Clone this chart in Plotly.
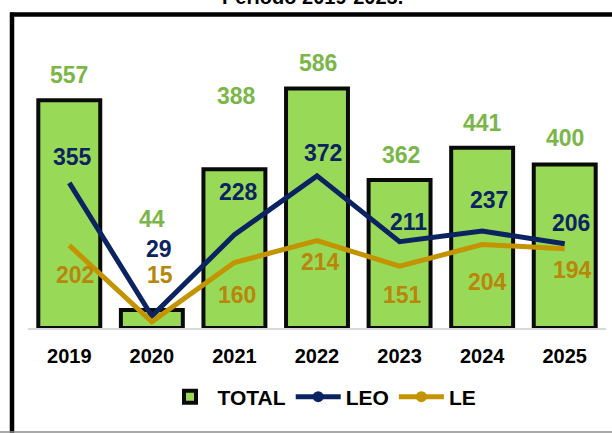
import plotly.graph_objects as go

# ---- data ----
years = ["2019", "2020", "2021", "2022", "2023", "2024", "2025"]
total = [557, 44, 388, 586, 362, 441, 400]
leo = [355, 29, 228, 372, 211, 237, 206]
le = [202, 15, 160, 214, 151, 204, 194]

# ---- styling / label placement (pixels) ----
W, H = 612, 433
ML, MR, MT, MB = 28, 6, 16, 105
YMAX = 763
FONT = "Liberation Sans, Arial"

GREEN_TXT = "#7AB648"
NAVY = "#0B2360"
GOLD = "#C49300"
GOLD_TXT = "#B8860B"

total_shift = [(0, 25), (0, 91), (2, 73), (1, 25), (1, 25), (0, 25), (0, 26)]
leo_shift = [(3, 26), (7, 67), (4, 43), (6, 23), (9, 20), (7, 31), (6, 21)]
le_shift = [(6, -30), (8, 47), (3, -32), (3, -22), (3, -29), (5, -37), (8, -21)]

plot_w = W - ML - MR
plot_h = H - MT - MB


def px_x(p):
    return (p - ML) / plot_w


def px_y(p):
    return (H - MB - p) / plot_h


fig = go.Figure()

fig.add_trace(go.Bar(
    x=years, y=total, name="<b>TOTAL</b>", showlegend=True,
    marker=dict(color="#98DA58", line=dict(color="#0a0a0a", width=4)),
))
fig.add_trace(go.Scatter(
    x=years, y=leo, mode="lines", name="LEO", showlegend=False,
    line=dict(color=NAVY, width=5),
))
fig.add_trace(go.Scatter(
    x=years, y=le, mode="lines", name="LE", showlegend=False,
    line=dict(color=GOLD, width=5),
))
# legend entries with ball markers
fig.add_trace(go.Scatter(
    x=[years[0]], y=[None], mode="lines+markers", name="<b>LEO</b>",
    line=dict(color=NAVY, width=5), marker=dict(color=NAVY, size=11),
))
fig.add_trace(go.Scatter(
    x=[years[0]], y=[None], mode="lines+markers", name="<b>LE</b>",
    line=dict(color=GOLD, width=5), marker=dict(color=GOLD, size=11),
))

annotations = []
for series, shifts, color in ((total, total_shift, GREEN_TXT),
                              (leo, leo_shift, NAVY),
                              (le, le_shift, GOLD_TXT)):
    for i, (v, (dx, dy)) in enumerate(zip(series, shifts)):
        annotations.append(dict(
            x=i, y=v, text=f"<b>{v}</b>", showarrow=False,
            xshift=dx, yshift=dy, yanchor="middle",
            font=dict(family=FONT, size=23, color=color),
        ))

annotations.append(dict(
    xref="paper", yref="paper", x=px_x(312), y=px_y(10),
    text="<b>Periodo 2019-2025.</b>", showarrow=False,
    xanchor="center", yanchor="bottom",
    font=dict(family=FONT, size=20, color="black"),
))

shapes = [
    # outer frame (left and top edges)
    dict(type="line", xref="paper", yref="paper",
         x0=px_x(12), x1=px_x(12), y0=px_y(12.5), y1=px_y(440),
         line=dict(color="black", width=4.5)),
    dict(type="line", xref="paper", yref="paper",
         x0=px_x(10), x1=px_x(620), y0=px_y(14.5), y1=px_y(14.5),
         line=dict(color="black", width=4.5)),
    # bottom gray rule
    dict(type="line", xref="paper", yref="paper",
         x0=px_x(0), x1=px_x(620), y0=px_y(432), y1=px_y(432),
         line=dict(color="#8c8c8c", width=1.5)),
]

fig.update_layout(
    width=W, height=H,
    margin=dict(l=ML, r=MR, t=MT, b=MB, autoexpand=False),
    paper_bgcolor="white", plot_bgcolor="white",
    bargap=0.25,
    showlegend=True,
    legend=dict(orientation="h", x=px_x(322), y=px_y(397),
                xanchor="center", yanchor="middle",
                font=dict(family=FONT, size=21, color="black"),
                itemwidth=45, tracegroupgap=0),
    xaxis=dict(type="category", range=[-0.5, len(years) - 0.5],
               categoryorder="array", categoryarray=years,
               showline=True, linecolor="#D9D9D9", linewidth=2,
               showgrid=False, ticks="",
               tickmode="array", tickvals=years,
               ticktext=[f"<b>{y}</b>" for y in years],
               tickfont=dict(family=FONT, size=20, color="black"),
               ticklabelstandoff=9),
    yaxis=dict(range=[0, YMAX], visible=False, showgrid=False),
    annotations=annotations,
    shapes=shapes,
    font=dict(family=FONT),
)

fig.write_html(
    "out.html",
    config={"displayModeBar": False},
    post_script="document.body.style.margin='0';document.body.style.overflow='hidden';",
)
